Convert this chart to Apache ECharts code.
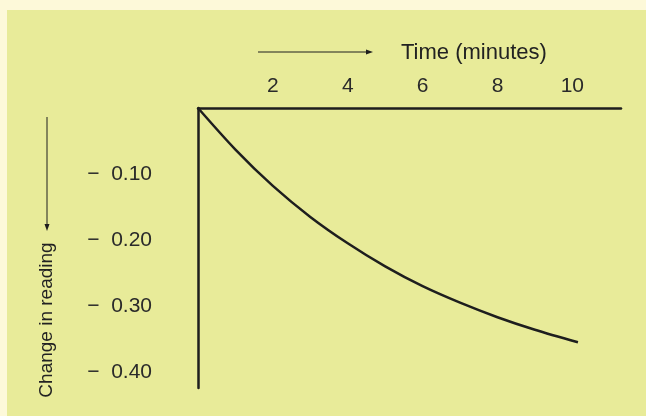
<!DOCTYPE html>
<html>
<head>
<meta charset="utf-8">
<title>Change in reading</title>
<script src="https://cdn.jsdelivr.net/npm/echarts@6/dist/echarts.min.js"></script>
<style>
  html, body { margin: 0; padding: 0; background: #fdf9d9; }
  #wrapper { position: relative; width: 646px; height: 416px; overflow: hidden; }
  #panel { position: absolute; left: 7px; top: 10px; right: 0; bottom: 0; background: #e8eb99; }
  #lineChart { position: absolute; left: 0; top: 0; width: 646px; height: 416px; }
</style>
</head>
<body>
<div id="wrapper">
  <div id="panel"></div>
  <div id="lineChart"></div>
</div>
<script>
//数据
var times = [0, 1, 2, 3, 4, 5, 6, 7, 8, 9, 10.15];
var readings = [0, -0.063, -0.118, -0.165, -0.205, -0.240, -0.270, -0.295, -0.317, -0.336, -0.355];
var xTicks = [2, 4, 6, 8, 10];
var yTicks = [-0.1, -0.2, -0.3, -0.4];

var ink = '#1e1e1e';
var font = 'Liberation Sans, Arial, sans-serif';

//渲染折线图
function renderLine() {
  var container = document.getElementById('lineChart');
  var myChart = echarts.init(container);
  var points = times.map(function (t, i) { return [t, readings[i]]; });

  var options = {
    backgroundColor: 'transparent',
    animation: false,
    grid: {
      left: 198,
      top: 108,
      width: 423,
      height: 280,
      outerBoundsMode: 'none'
    },
    xAxis: {
      type: 'value',
      position: 'top',
      min: 0,
      max: 11.3,
      axisLine: { show: true, lineStyle: { color: ink, width: 2.5 } },
      axisTick: { show: false },
      splitLine: { show: false },
      axisLabel: {
        customValues: xTicks,
        margin: 11,
        color: '#2a2a2a',
        fontFamily: font,
        fontSize: 21
      }
    },
    yAxis: {
      type: 'value',
      min: -0.4242,
      max: 0,
      axisLine: { show: true, lineStyle: { color: ink, width: 2.5 } },
      axisTick: { show: false },
      splitLine: { show: false },
      axisLabel: {
        customValues: yTicks,
        margin: 46,
        color: '#2a2a2a',
        fontFamily: font,
        fontSize: 21,
        formatter: function (v) {
          return '\u2212  ' + Math.abs(v).toFixed(2);
        }
      }
    },
    series: [{
      type: 'line',
      data: points,
      smooth: 0.3,
      showSymbol: false,
      lineStyle: { color: ink, width: 2.5 }
    }],
    graphic: [
      //时间箭头
      { type: 'line', shape: { x1: 258, y1: 52, x2: 368, y2: 52 }, style: { stroke: ink, lineWidth: 1 } },
      { type: 'polygon', shape: { points: [[373, 52], [366, 49.5], [366, 54.5]] }, style: { fill: ink } },
      {
        type: 'text', x: 401, y: 53,
        style: { text: 'Time (minutes)', font: '22px ' + font, fill: '#222', textVerticalAlign: 'middle' }
      },
      //纵轴箭头
      { type: 'line', shape: { x1: 47, y1: 117, x2: 47, y2: 226 }, style: { stroke: ink, lineWidth: 1 } },
      { type: 'polygon', shape: { points: [[47, 231], [44.5, 224], [49.5, 224]] }, style: { fill: ink } },
      {
        type: 'text', x: 47, y: 320, rotation: Math.PI / 2,
        style: { text: 'Change in reading', font: '19px ' + font, fill: '#222', textAlign: 'center', textVerticalAlign: 'middle' }
      }
    ]
  };

  myChart.setOption(options, true);
}

renderLine();
</script>
</body>
</html>
